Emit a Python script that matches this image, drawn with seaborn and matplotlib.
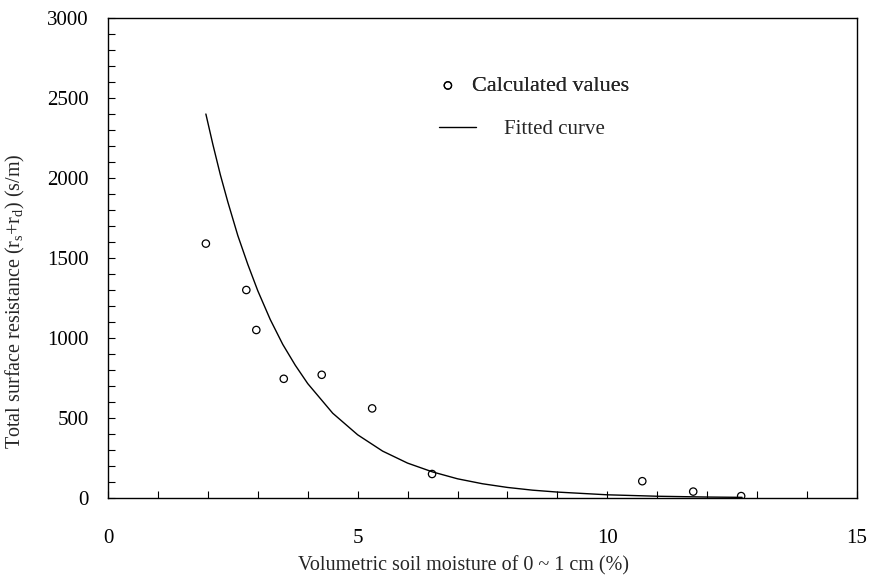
import numpy as np
import pandas as pd
import matplotlib
matplotlib.use("Agg")
import matplotlib.pyplot as plt
import seaborn as sns

# calculated values
moisture_obs = [1.96, 2.77, 2.97, 3.52, 4.28, 5.29, 6.49, 10.7, 11.72, 12.68]
resistance_obs = [1590, 1300, 1050, 745, 770, 560, 150, 105, 40, 12]

# fitted curve
moisture_fit = [1.96, 2.1, 2.25, 2.4, 2.6, 2.8, 3.0, 3.25, 3.5, 3.75, 4.0, 4.5,
                5.0, 5.5, 6.0, 6.5, 7.0, 7.5, 8.0, 8.5, 9.0, 10.0, 11.0, 12.0, 12.7]
resistance_fit = [2400, 2210, 2020, 1850, 1640, 1460, 1295, 1115, 960, 830, 715, 530,
                  395, 293, 218, 163, 120, 89, 66, 49, 37, 20, 11, 6, 4]

x_ticks = [0, 5, 10, 15]
y_ticks = [0, 500, 1000, 1500, 2000, 2500, 3000]

sns.set_style("ticks")
plt.rcParams['font.family'] = ['Liberation Serif', 'DejaVu Serif']
plt.rcParams['mathtext.default'] = 'regular'

obs = pd.DataFrame({'moisture': moisture_obs, 'resistance': resistance_obs})
fit = pd.DataFrame({'moisture': moisture_fit, 'resistance': resistance_fit})

fig = plt.figure(figsize=(8.7, 5.81), dpi=100)
ax = fig.add_axes([108 / 870, 1 - 498 / 581, 749 / 870, 480 / 581])

sns.lineplot(data=fit, x='moisture', y='resistance', ax=ax, color='black',
             linewidth=1.0, estimator=None, sort=False, label='Fitted curve', legend=False)
sns.scatterplot(data=obs, x='moisture', y='resistance', ax=ax, marker='o',
                facecolor='none', edgecolor='black', linewidth=0.9, s=28,
                label='Calculated values', legend=False)

ax.set_xlim(0, 15)
ax.set_ylim(0, 3000)
ax.set_xticks(x_ticks)
ax.set_yticks(y_ticks)
ax.set_xticks(np.arange(0, 16, 1), minor=True)
ax.set_yticks(np.arange(0, 3001, 100), minor=True)
ax.tick_params(which='both', direction='in', length=5, width=0.8, colors='black')
ax.tick_params(axis='x', which='major', pad=22, labelsize=15)
ax.tick_params(axis='y', which='major', pad=14, labelsize=15)
for s in ax.spines.values():
    s.set_linewidth(1.0)
    s.set_color('black')

ax.set_xlabel('Volumetric soil moisture of 0 ~ 1 cm (%)', fontsize=14.5)
ax.set_ylabel('Total surface resistance (r$_s$+r$_d$) (s/m)', fontsize=14.5)
ax.xaxis.set_label_coords(0.474, -0.122)
ax.yaxis.set_label_coords(-0.108, 0.41)

handles, labels = ax.get_legend_handles_labels()
h = dict(zip(labels, handles))
leg1 = fig.legend([h['Calculated values']], ['Calculated values'], loc='center left',
                  bbox_to_anchor=(439 / 870, 1 - 86 / 581), frameon=False,
                  fontsize=16, handlelength=0.8, handletextpad=0.7, borderpad=0,
                  borderaxespad=0)
fig.add_artist(leg1)
fig.legend([h['Fitted curve']], ['Fitted curve'], loc='center left',
           bbox_to_anchor=(439 / 870, 1 - 129 / 581), frameon=False,
           fontsize=15, handlelength=1.8, handletextpad=1.3, borderpad=0,
           borderaxespad=0)

fig.savefig('out.png', dpi=100)
plt.close(fig)
